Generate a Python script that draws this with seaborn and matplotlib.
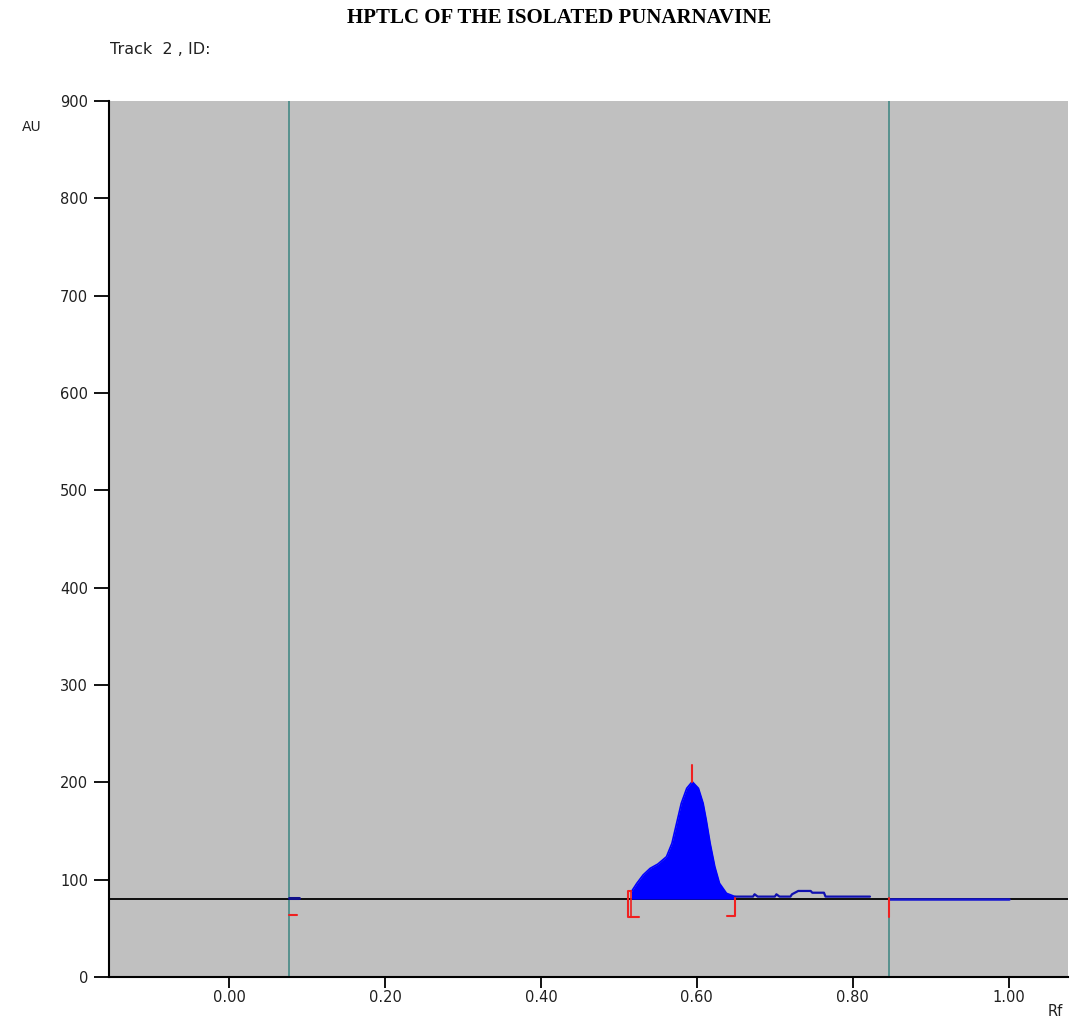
import matplotlib
matplotlib.use("Agg")
import matplotlib.pyplot as plt
import seaborn as sns
import pandas as pd
import numpy as np

# ---- data ----
peak_rf = [0.516, 0.523, 0.531, 0.540, 0.550, 0.561, 0.568, 0.574, 0.580, 0.587,
           0.594, 0.602, 0.608, 0.612, 0.617, 0.623, 0.629, 0.638, 0.649]
peak_au = [87.7, 96.3, 104.8, 111.6, 116.1, 123.6, 137.4, 158.0, 178.5, 193.9,
           200.7, 193.9, 178.5, 161.4, 137.4, 113.4, 96.3, 86.0, 82.6]

tail_rf = [0.649, 0.660, 0.672, 0.674, 0.678, 0.700, 0.702, 0.706, 0.720, 0.722,
           0.730, 0.746, 0.748, 0.763, 0.765, 0.822]
tail_au = [82.6, 82.6, 82.6, 85.0, 82.6, 82.6, 85.0, 82.6, 82.6, 85.0,
           88.4, 88.4, 86.6, 86.6, 82.6, 82.6]

flat_rf = [0.846, 1.000]
flat_au = [80.5, 80.5]

start_rf = [0.077, 0.090]
start_au = [81.5, 81.5]

baseline_au = 80.0
front_lines = [0.077, 0.846]
peak_max_rf = 0.594
peak_start_rf = 0.512
peak_end_rf = 0.649

xticks = [0.0, 0.2, 0.4, 0.6, 0.8, 1.0]
xticklabels = ["0.00", "0.20", "0.40", "0.60", "0.80", "1.00"]
yticks = [0, 100, 200, 300, 400, 500, 600, 700, 800, 900]

sns.set_theme(style="white")
plt.rcParams['font.family'] = ['DejaVu Sans']

fig = plt.figure(figsize=(10.73, 10.25), dpi=100)
ax = fig.add_axes([109/1073, 48/1025, (1068-109)/1073, (977-101)/1025])
ax.set_facecolor("#C0C0C0")

ax.set_xlim(-0.154, 1.076)
ax.set_ylim(0, 900)

# vertical front / start lines
for v in front_lines:
    ax.axvline(v, color="#4E8E8A", lw=1.3, zorder=1)

# baseline
ax.axhline(baseline_au, color="black", lw=1.3, zorder=2)

# peak fill
df_peak = pd.DataFrame({"rf": peak_rf, "au": peak_au})
ax.fill_between(df_peak["rf"], baseline_au, df_peak["au"], color="#0000FF", lw=0, zorder=3)
sns.lineplot(data=df_peak, x="rf", y="au", ax=ax, color="#0000FF", lw=1.2, zorder=4,
             estimator=None, sort=False)

df_tail = pd.DataFrame({"rf": tail_rf, "au": tail_au})
sns.lineplot(data=df_tail, x="rf", y="au", ax=ax, color="#1010B0", lw=1.6, zorder=4,
             estimator=None, sort=False)
df_flat = pd.DataFrame({"rf": flat_rf, "au": flat_au})
sns.lineplot(data=df_flat, x="rf", y="au", ax=ax, color="#1515D0", lw=1.8, zorder=4,
             estimator=None, sort=False)
df_start = pd.DataFrame({"rf": start_rf, "au": start_au})
sns.lineplot(data=df_start, x="rf", y="au", ax=ax, color="#10108A", lw=2.2, zorder=4,
             estimator=None, sort=False)

red = "#F02020"
# peak max tick
ax.plot([peak_max_rf, peak_max_rf], [200.7, 218], color=red, lw=1.5, zorder=5)
# start bracket
ax.plot([peak_start_rf + 0.004, peak_start_rf, peak_start_rf, peak_start_rf + 0.014],
        [88, 88, 62, 62], color=red, lw=1.5, zorder=5)
ax.plot([peak_start_rf + 0.004, peak_start_rf + 0.004], [88, 62], color=red, lw=1.2, zorder=5)
# end bracket
ax.plot([peak_end_rf, peak_end_rf, peak_end_rf - 0.011],
        [81, 63, 63], color=red, lw=1.5, zorder=5)
# small red marks at fronts
ax.plot([0.077, 0.087], [64, 64], color=red, lw=1.5, zorder=5)
ax.plot([0.846, 0.846], [81, 62], color=red, lw=1.5, zorder=5)

ax.set_xticks(xticks)
ax.set_xticklabels(xticklabels)
ax.set_yticks(yticks)
ax.set_xlabel("")
ax.set_ylabel("")

for s in ["top", "right"]:
    ax.spines[s].set_visible(False)
for s in ["left", "bottom"]:
    ax.spines[s].set_visible(True)
    ax.spines[s].set_color("black")
    ax.spines[s].set_linewidth(1.5)

ax.tick_params(axis="y", direction="out", length=11, width=1.3, color="black",
               labelsize=10.5, pad=4, left=True)
ax.tick_params(axis="x", direction="out", length=8, width=1.3, color="black",
               labelsize=10.5, pad=1, bottom=True)
for lab in ax.get_xticklabels() + ax.get_yticklabels():
    lab.set_color("#202020")
ax.grid(False)

fig.text(22/1073, 1 - 127/1025, "AU", fontsize=10, color="#202020", ha="left", va="center")
fig.text(1055/1073, 1 - 1012/1025, "Rf", fontsize=10.5, color="#202020", ha="center", va="center")
fig.text(110/1073, 1 - 50/1025, "Track  2 , ID:", fontsize=11.5, color="#202020", ha="left", va="center")
fig.text(559/1073, 1 - 18/1025, "HPTLC OF THE ISOLATED PUNARNAVINE", fontsize=15,
         fontweight="bold", family=["Liberation Serif", "DejaVu Serif"], color="black",
         ha="center", va="center")

fig.savefig("out.png", dpi=100, facecolor="white")
